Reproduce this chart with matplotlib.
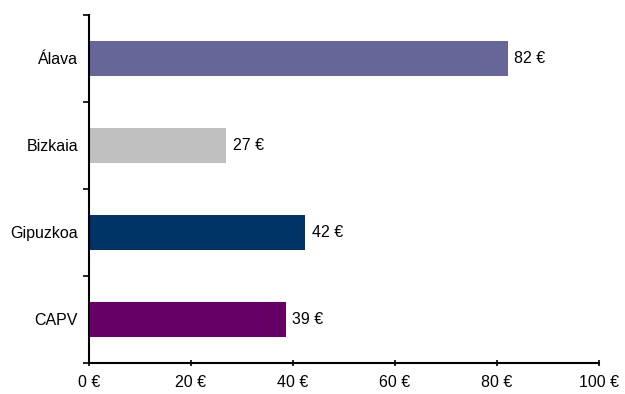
import matplotlib.pyplot as plt
import numpy as np

plt.rcParams['font.family'] = ['Liberation Sans', 'DejaVu Sans']

regions = ["Álava", "Bizkaia", "Gipuzkoa", "CAPV"]
values = [82.1, 26.9, 42.4, 38.6]
labels = ["82 €", "27 €", "42 €", "39 €"]
colors = ["#666699", "#C0C0C0", "#003366", "#660066"]
xticks = [0, 20, 40, 60, 80, 100]

fig = plt.figure(figsize=(6.25, 3.94), dpi=100)
ax = fig.add_axes([0.1424, 0.0787, 0.816, 0.8833])

y = np.arange(len(regions))[::-1]
ax.barh(y, values, height=0.4, color=colors)
for yi, v, lab in zip(y, values, labels):
    ax.text(v + 1.3, yi, lab, va='center', ha='left', fontsize=11.5)

ax.set_xlim(0, 100)
ax.set_ylim(-0.5, 3.5)
ax.set_xticks(xticks)
ax.set_xticklabels([f"{t} €" for t in xticks], fontsize=11.5)
ax.set_yticks(y)
ax.set_yticklabels(regions, fontsize=11.5)
ax.set_yticks(np.arange(-0.5, 4, 1), minor=True)
ax.tick_params(axis='y', which='major', length=0, pad=8)
ax.tick_params(axis='y', which='minor', length=4, width=1.2, direction='out')
ax.tick_params(axis='x', length=4, width=1.2, direction='inout', pad=7)
ax.spines['top'].set_visible(False)
ax.spines['right'].set_visible(False)
ax.spines['left'].set_linewidth(1.5)
ax.spines['bottom'].set_linewidth(1.5)

fig.savefig("out.png", dpi=100)
